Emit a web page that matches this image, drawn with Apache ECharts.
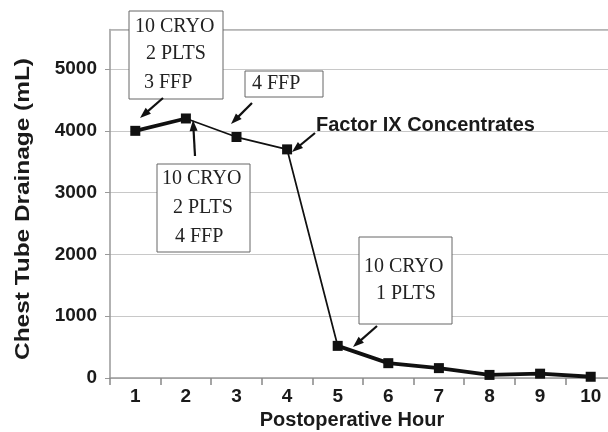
<!DOCTYPE html>
<html><head><meta charset="utf-8">
<script src="https://cdn.jsdelivr.net/npm/echarts@6/dist/echarts.min.js"></script>
<style>html,body{margin:0;padding:0;background:#fff;overflow:hidden}#c{width:616px;height:432px}</style>
</head><body><div id="c"></div>
<script>
var hours = ['1','2','3','4','5','6','7','8','9','10'];
var drainage = [4000, 4200, 3900, 3700, 520, 240, 160, 50, 70, 20];
var yTicks = [0, 1000, 2000, 3000, 4000, 5000];
var yMax = 5640;
var annotations = [
  ['10 CRYO', '2 PLTS', '3 FFP'],
  ['4 FFP'],
  ['10 CRYO', '2 PLTS', '4 FFP'],
  ['10 CRYO', '1 PLTS'],
  ['Factor IX Concentrates']
];
var xTitle = 'Postoperative Hour';
var yTitle = 'Chest Tube Drainage (mL)';

var thick = drainage.map(function(v, i){ return (i <= 1 || i >= 4) ? v : null; });

var chart = echarts.init(document.getElementById('c'), null, {renderer: 'canvas'});

function arrow(x1, y1, x2, y2) {
  var a = Math.atan2(y2 - y1, x2 - x1);
  var L = 11, W = 8;
  var dx = Math.cos(a), dy = Math.sin(a);
  var bx = x2 - dx * L, by = y2 - dy * L;
  var px = -dy, py = dx;
  return [
    {type: 'line', shape: {x1: x1, y1: y1, x2: bx + dx * 2, y2: by + dy * 2}, style: {stroke: '#111', lineWidth: 2.2}, z: 10},
    {type: 'polygon', shape: {points: [[x2, y2], [bx + px * W / 2, by + py * W / 2], [bx - px * W / 2, by - py * W / 2]]}, style: {fill: '#111'}, z: 10}
  ];
}
function box(x, y, w, h) {
  return {type: 'rect', shape: {x: x, y: y, width: w, height: h}, style: {fill: '#fff', stroke: '#666', lineWidth: 1}, z: 9};
}
var serif = '"Liberation Serif", "DejaVu Serif", serif';
var sans = '"Liberation Sans", Arial, sans-serif';
function stext(t, x, y) {
  return {type: 'text', x: x, y: y, style: {text: t, font: '20px ' + serif, fill: '#222', textAlign: 'left', textVerticalAlign: 'middle'}, z: 11};
}

var g = [];
g.push(box(129, 11, 94, 88));
g.push(stext(annotations[0][0], 135, 27));
g.push(stext(annotations[0][1], 146, 54));
g.push(stext(annotations[0][2], 144, 83));
g = g.concat(arrow(163, 98, 140, 118));

g.push(box(245, 71, 78, 26));
g.push(stext(annotations[1][0], 252, 84));
g = g.concat(arrow(252, 103, 231, 124));

g.push(box(157, 164, 93, 88));
g.push(stext(annotations[2][0], 162, 179));
g.push(stext(annotations[2][1], 173, 208));
g.push(stext(annotations[2][2], 175, 237));
g = g.concat(arrow(195, 156, 193, 120));

g.push(box(359, 237, 93, 87));
g.push(stext(annotations[3][0], 364, 267));
g.push(stext(annotations[3][1], 376, 294));
g = g.concat(arrow(377, 326, 353, 347));

g.push({type: 'text', x: 316, y: 125, style: {text: annotations[4][0], font: 'bold 20px ' + sans, fill: '#1a1a1a', textAlign: 'left', textVerticalAlign: 'middle'}, z: 11});
g = g.concat(arrow(315, 133, 292, 152));

g.push({type: 'text', x: 23, y: 209, rotation: Math.PI / 2, scaleX: 1.22, scaleY: 1.0,
  style: {text: yTitle, font: 'bold 20px ' + sans, fill: '#1a1a1a', textAlign: 'center', textVerticalAlign: 'middle'}, z: 11});
g.push({type: 'text', x: 352, y: 420,
  style: {text: xTitle, font: 'bold 20px ' + sans, fill: '#1a1a1a', textAlign: 'center', textVerticalAlign: 'middle'}, z: 11});

chart.setOption({
  animation: false,
  backgroundColor: '#fff',
  grid: {left: 110, right: 0, top: 29.5, bottom: 54, containLabel: false},
  xAxis: {
    type: 'category',
    data: hours,
    boundaryGap: true,
    axisLine: {lineStyle: {color: '#999', width: 1.5}},
    axisTick: {show: true, length: 7, lineStyle: {color: '#888', width: 1.5}},
    axisLabel: {fontFamily: sans, fontWeight: 'bold', fontSize: 19, color: '#1a1a1a', margin: 9},
    splitLine: {show: false}
  },
  yAxis: {
    type: 'value',
    min: 0,
    max: yMax,
    interval: 1000,
    axisLine: {show: true, lineStyle: {color: '#999', width: 1.5}},
    axisTick: {show: true, length: 5, lineStyle: {color: '#999'}},
    axisLabel: {showMaxLabel: false, fontFamily: sans, fontWeight: 'bold', fontSize: 19, color: '#1a1a1a', margin: 13,
      formatter: function(v){ return yTicks.indexOf(v) >= 0 ? String(v) : ''; }},
    splitLine: {show: true, lineStyle: {color: '#c8c8c8', width: 1.2}}
  },
  series: [
    {type: 'line', data: drainage, symbol: 'rect', symbolSize: 10, itemStyle: {color: '#111'}, lineStyle: {color: '#111', width: 1.8}, z: 5,
      markLine: {silent: true, symbol: 'none', label: {show: false}, lineStyle: {color: '#b0b0b0', type: 'solid', width: 1.5}, data: [{yAxis: yMax}]}},
    {type: 'line', data: thick, symbol: 'none', connectNulls: false, lineStyle: {color: '#111', width: 3.8}, z: 4}
  ],
  graphic: g
});
</script></body></html>
